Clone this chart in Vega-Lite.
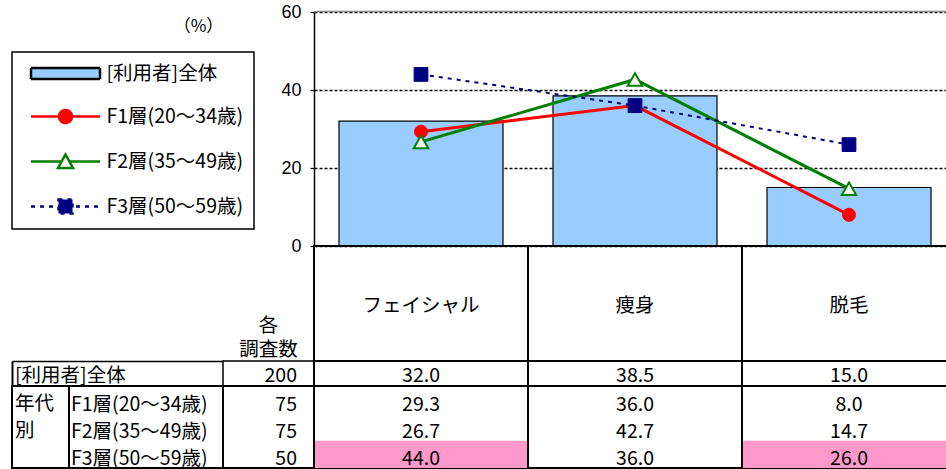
{
  "$schema": "https://vega.github.io/schema/vega-lite/v6.json",
  "padding": {"left": 11, "top": 3, "right": 0, "bottom": 0},
  "config": {
    "view": {"stroke": null},
    "font": "Noto Sans CJK JP",
    "text": {"fontSize": 19.5, "fill": "#000000", "font": "Noto Sans CJK JP"},
    "concat": {"spacing": 0}
  },
  "datasets": {
    "overall": [
      {"series": "[利用者]全体", "category": "フェイシャル", "value": 32.0},
      {"series": "[利用者]全体", "category": "痩身", "value": 38.5},
      {"series": "[利用者]全体", "category": "脱毛", "value": 15.0}
    ],
    "groups": [
      {"series": "F1層(20～34歳)", "category": "フェイシャル", "value": 29.3},
      {"series": "F1層(20～34歳)", "category": "痩身", "value": 36.0},
      {"series": "F1層(20～34歳)", "category": "脱毛", "value": 8.0},
      {"series": "F2層(35～49歳)", "category": "フェイシャル", "value": 26.7},
      {"series": "F2層(35～49歳)", "category": "痩身", "value": 42.7},
      {"series": "F2層(35～49歳)", "category": "脱毛", "value": 14.7},
      {"series": "F3層(50～59歳)", "category": "フェイシャル", "value": 44.0},
      {"series": "F3層(50～59歳)", "category": "痩身", "value": 36.0},
      {"series": "F3層(50～59歳)", "category": "脱毛", "value": 26.0}
    ],
    "counts": [
      {"series": "[利用者]全体", "n": 200},
      {"series": "F1層(20～34歳)", "n": 75},
      {"series": "F2層(35～49歳)", "n": 75},
      {"series": "F3層(50～59歳)", "n": 50}
    ]
  },
  "spacing": 0,
  "bounds": "flush",
  "columns": 4,
  "align": {"row": "each", "column": "each"},
  "concat": [
    {"width": 57, "height": 234, "data": {"values": []}, "mark": "text"},
    {"width": 154, "height": 234, "data": {"values": []}, "mark": "text"},
    {"width": 91, "height": 234, "data": {"values": []}, "mark": "text"},
    {
      "width": 642,
      "height": 234,
      "encoding": {
        "x": {"field": "category", "type": "nominal", "sort": ["フェイシャル", "痩身", "脱毛"],
          "scale": {"domain": ["フェイシャル", "痩身", "脱毛"], "paddingInner": 0.2336, "paddingOuter": 0.1168},
          "axis": {"orient": "top", "title": null, "labels": false, "ticks": false, "domainColor": "#888888", "domainWidth": 1.5, "offset": 1}},
        "y": {"field": "value", "type": "quantitative",
          "scale": {"domain": [0, 60], "nice": false},
          "axis": {
            "values": [0, 20, 40, 60],
            "grid": true, "gridColor": "#000000", "gridDash": [3, 2], "gridWidth": 1.3, "gridOpacity": 1,
            "domainColor": "#000000", "domainWidth": 1.5,
            "ticks": true, "tickColor": "#000000", "tickSize": 4, "tickWidth": 1.2,
            "labelFont": "Liberation Sans", "labelFontSize": 18, "labelColor": "#000000", "labelPadding": 9,
            "title": "（%）", "titleAngle": 0, "titleX": -116, "titleY": 14, "titleAlign": "center", "titleBaseline": "middle",
            "titleFont": "Noto Sans CJK JP", "titleFontSize": 17, "titleFontWeight": "normal", "titleColor": "#000000"
          }}
      },
      "layer": [
        {
          "data": {"name": "overall"},
          "mark": {"type": "bar", "strokeWidth": 1.2},
          "encoding": {
            "fill": {"field": "series", "type": "nominal",
              "scale": {"domain": ["[利用者]全体", "F1層(20～34歳)", "F2層(35～49歳)", "F3層(50～59歳)"], "range": ["#99CCFF", "#FF0000", "#FFFFFF", "#000080"]},
              "legend": {
                "orient": "none", "legendX": 0, "legendY": 40,
                "title": null, "direction": "vertical",
                "padding": 10, "strokeColor": "#000000",
                "labelFont": "Noto Sans CJK JP", "labelFontSize": 19.5, "labelColor": "#000000", "labelOffset": 54, "labelLimit": 300,
                "symbolSize": 400, "symbolStrokeWidth": 2.5, "rowPadding": 21, "symbolOffset": 7.5,
                "encode": {
                  "legend": {"update": {"strokeWidth": {"value": 1.5}}},
                  "symbols": {"update": {
                    "shape": {"signal": "['M-1,-0.55H5.9V0.55H-1Z','M-1,0H5.9M3.1,0A0.65,0.65 0 1,1 1.8,0A0.65,0.65 0 1,1 3.1,0Z','M-1,0H2.06M2.84,0H5.9M2.45,-0.7L3.2,0.65L1.7,0.65Z','M-1,0H5.9M1.75,-0.7H3.15V0.7H1.75Z'][datum.index]"},
                    "fill": {"signal": "['#99CCFF','#FF0000','#FFFFFF','#000080'][datum.index]"},
                    "stroke": {"signal": "['#000000','#FF0000','#008000','#000080'][datum.index]"},
                    "strokeDash": {"signal": "[[1,0],[1,0],[1,0],[4,5]][datum.index]"},
                    "opacity": {"value": 1},
                    "fillOpacity": {"value": 1}
                  }}
                }
              }},
            "stroke": {"field": "series", "type": "nominal",
              "scale": {"domain": ["[利用者]全体", "F1層(20～34歳)", "F2層(35～49歳)", "F3層(50～59歳)"], "range": ["#000000", "#FF0000", "#008000", "#000080"]},
              "legend": null}
          }
        },
        {
          "data": {"name": "groups"},
          "transform": [{"filter": {"field": "series", "oneOf": ["F1層(20～34歳)", "F2層(35～49歳)"]}}],
          "mark": {"type": "line", "strokeWidth": 3},
          "encoding": {"stroke": {"field": "series", "type": "nominal", "legend": null}}
        },
        {
          "data": {"name": "groups"},
          "transform": [{"filter": {"field": "series", "equal": "F3層(50～59歳)"}}],
          "mark": {"type": "line", "strokeWidth": 2, "strokeDash": [4, 5]},
          "encoding": {"stroke": {"field": "series", "type": "nominal", "legend": null}}
        },
        {
          "data": {"name": "groups"},
          "transform": [{"filter": {"field": "series", "equal": "F1層(20～34歳)"}}],
          "mark": {"type": "point", "shape": "circle", "filled": true, "opacity": 1, "size": 170, "fill": "#FF0000", "stroke": "#FF0000", "strokeWidth": 1}
        },
        {
          "data": {"name": "groups"},
          "transform": [{"filter": {"field": "series", "equal": "F2層(35～49歳)"}}],
          "mark": {"type": "point", "shape": "triangle-up", "filled": true, "opacity": 1, "size": 210, "fill": "#FFFFFF", "stroke": "#008000", "strokeWidth": 2}
        },
        {
          "data": {"name": "groups"},
          "transform": [{"filter": {"field": "series", "equal": "F3層(50～59歳)"}}],
          "mark": {"type": "point", "shape": "square", "filled": true, "opacity": 1, "size": 190, "fill": "#000080", "stroke": "#000080", "strokeWidth": 1}
        }
      ]
    },
    {"width": 57, "height": 1, "data": {"values": []}, "mark": "text"},
    {"width": 154, "height": 1, "data": {"values": []}, "mark": "text"},
    {"width": 91, "height": 115, "data": {"values": [{}]},
      "mark": {"type": "text", "text": ["各", "調査数"], "lineHeight": 24, "dy": 22}},
    {
      "width": 642, "height": 115,
      "data": {"name": "overall"},
      "view": {"stroke": "#000000", "strokeWidth": 2},
      "layer": [
        {"mark": {"type": "text", "dy": 2},
          "encoding": {
            "x": {"field": "category", "type": "nominal", "sort": ["フェイシャル", "痩身", "脱毛"], "scale": {"type": "band", "domain": ["フェイシャル", "痩身", "脱毛"], "paddingInner": 0, "paddingOuter": 0}, "axis": null},
            "text": {"field": "category"}}},
        {"mark": {"type": "rule", "strokeWidth": 2, "color": "#000000"},
          "encoding": {
            "x": {"field": "category", "type": "nominal", "bandPosition": 0, "sort": ["フェイシャル", "痩身", "脱毛"], "scale": {"type": "band", "domain": ["フェイシャル", "痩身", "脱毛"], "paddingInner": 0, "paddingOuter": 0}, "axis": null}}}
      ]
    },
    {"width": 57, "height": 25, "data": {"name": "counts"},
      "transform": [{"filter": {"field": "series", "equal": "[利用者]全体"}}],
      "mark": {"type": "text", "align": "left", "dx": 3, "dy": 2},
      "encoding": {
        "x": {"field": "series", "type": "nominal", "bandPosition": 0, "scale": {"type": "band", "paddingInner": 0, "paddingOuter": 0},
          "axis": {"orient": "top", "labels": false, "ticks": false, "title": null, "grid": false, "domainColor": "#000000", "domainWidth": 1.5}},
        "y": {"field": "series", "type": "nominal", "scale": {"type": "band", "paddingInner": 0, "paddingOuter": 0},
          "axis": {"orient": "left", "labels": false, "ticks": false, "title": null, "grid": false, "domainColor": "#000000", "domainWidth": 2}},
        "text": {"field": "series"}}},
    {"width": 154, "height": 25, "data": {"name": "counts"},
      "transform": [{"filter": {"field": "series", "equal": "[利用者]全体"}}],
      "mark": {"type": "text", "text": ""},
      "encoding": {
        "x": {"field": "series", "type": "nominal", "scale": {"type": "band", "paddingInner": 0, "paddingOuter": 0},
          "axis": {"orient": "top", "labels": false, "ticks": false, "title": null, "grid": false, "domainColor": "#000000", "domainWidth": 1.5}}}},
    {"width": 91, "height": 25, "data": {"name": "counts"},
      "transform": [{"filter": {"field": "series", "equal": "[利用者]全体"}}],
      "view": {"stroke": "#000000", "strokeWidth": 1.5},
      "mark": {"type": "text", "align": "right", "dx": 28.5, "dy": 2},
      "encoding": {"text": {"field": "n", "type": "quantitative"}}},
    {
      "width": 642, "height": 25,
      "data": {"name": "overall"},
      "view": {"stroke": "#000000", "strokeWidth": 1.5},
      "layer": [
        {"mark": {"type": "text", "dy": 2},
          "encoding": {
            "x": {"field": "category", "type": "nominal", "sort": ["フェイシャル", "痩身", "脱毛"], "scale": {"type": "band", "domain": ["フェイシャル", "痩身", "脱毛"], "paddingInner": 0, "paddingOuter": 0}, "axis": null},
            "text": {"field": "value", "type": "quantitative", "format": ".1f"}}},
        {"mark": {"type": "rule", "strokeWidth": 2, "color": "#000000"},
          "encoding": {
            "x": {"field": "category", "type": "nominal", "bandPosition": 0, "sort": ["フェイシャル", "痩身", "脱毛"], "scale": {"type": "band", "domain": ["フェイシャル", "痩身", "脱毛"], "paddingInner": 0, "paddingOuter": 0}, "axis": null}}}
      ]
    },
    {"width": 57, "height": 82, "data": {"values": [{}]},
      "view": {"stroke": "#000000", "strokeWidth": 2},
      "mark": {"type": "text", "text": ["年代", "別"], "align": "left", "lineHeight": 27, "dx": -25.5, "dy": -23}},
    {"width": 154, "height": 82, "data": {"name": "counts"},
      "transform": [{"filter": {"field": "series", "oneOf": ["F1層(20～34歳)", "F2層(35～49歳)", "F3層(50～59歳)"]}}],
      "view": {"stroke": "#000000", "strokeWidth": 2},
      "mark": {"type": "text", "align": "left", "dx": -75, "dy": 5},
      "encoding": {
        "y": {"field": "series", "type": "nominal", "sort": ["F1層(20～34歳)", "F2層(35～49歳)", "F3層(50～59歳)"], "scale": {"type": "band", "domain": ["F1層(20～34歳)", "F2層(35～49歳)", "F3層(50～59歳)"], "paddingInner": 0, "paddingOuter": 0}, "axis": null},
        "text": {"field": "series"}}},
    {"width": 91, "height": 82, "data": {"name": "counts"},
      "transform": [{"filter": {"field": "series", "oneOf": ["F1層(20～34歳)", "F2層(35～49歳)", "F3層(50～59歳)"]}}],
      "view": {"stroke": "#000000", "strokeWidth": 2},
      "mark": {"type": "text", "align": "right", "dx": 28.5, "dy": 5},
      "encoding": {
        "y": {"field": "series", "type": "nominal", "sort": ["F1層(20～34歳)", "F2層(35～49歳)", "F3層(50～59歳)"], "scale": {"type": "band", "domain": ["F1層(20～34歳)", "F2層(35～49歳)", "F3層(50～59歳)"], "paddingInner": 0, "paddingOuter": 0}, "axis": null},
        "text": {"field": "n", "type": "quantitative"}}},
    {
      "width": 642, "height": 82,
      "view": {"stroke": "#000000", "strokeWidth": 2},
      "layer": [
        {"data": {"name": "groups"},
          "transform": [
            {"lookup": "category", "from": {"data": {"name": "overall"}, "key": "category", "fields": ["value"]}, "as": ["total"]},
            {"filter": "datum.value - datum.total >= 10"}
          ],
          "mark": {"type": "rect", "fill": "#FF99CC"},
          "encoding": {
            "x": {"field": "category", "type": "nominal", "sort": ["フェイシャル", "痩身", "脱毛"], "scale": {"type": "band", "domain": ["フェイシャル", "痩身", "脱毛"], "paddingInner": 0, "paddingOuter": 0}, "axis": null},
            "y": {"field": "series", "type": "nominal", "sort": ["F1層(20～34歳)", "F2層(35～49歳)", "F3層(50～59歳)"], "scale": {"type": "band", "domain": ["F1層(20～34歳)", "F2層(35～49歳)", "F3層(50～59歳)"], "paddingInner": 0, "paddingOuter": 0}, "axis": null}}},
        {"data": {"name": "groups"},
          "mark": {"type": "text", "dy": 5},
          "encoding": {
            "x": {"field": "category", "type": "nominal", "sort": ["フェイシャル", "痩身", "脱毛"]},
            "y": {"field": "series", "type": "nominal", "sort": ["F1層(20～34歳)", "F2層(35～49歳)", "F3層(50～59歳)"]},
            "text": {"field": "value", "type": "quantitative", "format": ".1f"}}},
        {"data": {"name": "overall"},
          "mark": {"type": "rule", "strokeWidth": 2, "color": "#000000"},
          "encoding": {
            "x": {"field": "category", "type": "nominal", "bandPosition": 0, "sort": ["フェイシャル", "痩身", "脱毛"]}}}
      ]
    }
  ]
}
